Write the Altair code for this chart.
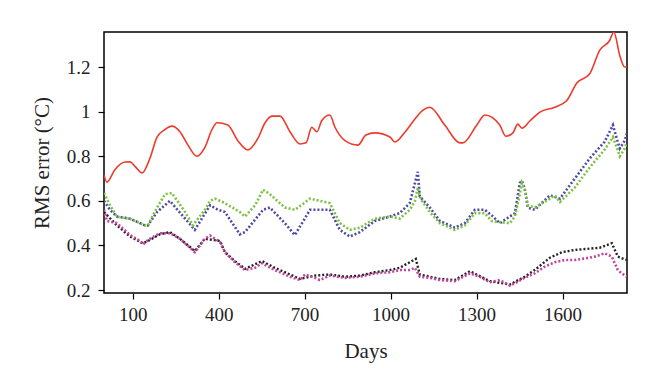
import altair as alt
import pandas as pd

red_day = [0, 10, 38, 73, 91, 108, 133, 160, 185, 213, 237, 265, 293, 324, 352, 377, 394, 432, 467, 502,
           537, 562, 586, 614, 649, 684, 705, 725, 743, 760, 788, 806, 841, 886, 914, 945, 998, 1015, 1050,
           1085, 1113, 1137, 1189, 1242, 1252, 1301, 1329, 1381, 1402, 1427, 1444, 1458, 1486, 1521, 1573,
           1615, 1650, 1695, 1730, 1765, 1779, 1800, 1817, 1824]
red_val = [0.716, 0.684, 0.74, 0.774, 0.775, 0.755, 0.725, 0.79, 0.886, 0.92, 0.935, 0.91, 0.85, 0.80, 0.84,
           0.92, 0.95, 0.94, 0.87, 0.828, 0.88, 0.95, 0.98, 0.98, 0.91, 0.855, 0.86, 0.93, 0.91, 0.96, 0.985,
           0.93, 0.87, 0.85, 0.895, 0.905, 0.886, 0.864, 0.908, 0.967, 1.007, 1.02, 0.94, 0.86, 0.86, 0.94,
           0.985, 0.94, 0.89, 0.905, 0.944, 0.926, 0.958, 0.998, 1.02, 1.05, 1.128, 1.17, 1.276, 1.32, 1.357,
           1.25, 1.20, 1.20]

green_day = [0, 21, 45, 91, 143, 153, 185, 213, 237, 283, 310, 352, 370, 387, 422, 474, 492, 527, 555, 579,
             631, 666, 719, 753, 788, 823, 858, 893, 945, 998, 1032, 1067, 1085, 1095, 1102, 1109, 1137, 1172,
             1224, 1259, 1294, 1329, 1353, 1381, 1416, 1434, 1451, 1458, 1468, 1479, 1503, 1556, 1573, 1591,
             1643, 1695, 1747, 1776, 1789, 1800, 1817, 1824]
green_val = [0.635, 0.58, 0.528, 0.52, 0.49, 0.49, 0.57, 0.63, 0.635, 0.55, 0.49, 0.56, 0.60, 0.61, 0.59,
             0.55, 0.53, 0.58, 0.65, 0.63, 0.57, 0.56, 0.61, 0.60, 0.59, 0.50, 0.47, 0.48, 0.52, 0.53, 0.52,
             0.56, 0.60, 0.66, 0.62, 0.60, 0.55, 0.50, 0.47, 0.49, 0.545, 0.545, 0.51, 0.505, 0.50, 0.53, 0.63,
             0.68, 0.65, 0.58, 0.57, 0.61, 0.625, 0.595, 0.66, 0.75, 0.83, 0.886, 0.84, 0.80, 0.835, 0.86]

blue_day = [0, 21, 45, 91, 143, 153, 185, 230, 283, 317, 370, 398, 422, 474, 492, 555, 579, 631, 666, 719,
            788, 823, 858, 893, 945, 998, 1032, 1067, 1085, 1095, 1102, 1109, 1137, 1172, 1224, 1259, 1294,
            1329, 1353, 1381, 1434, 1451, 1458, 1468, 1479, 1503, 1556, 1591, 1643, 1695, 1747, 1776, 1789,
            1800, 1817, 1824]
blue_val = [0.60, 0.56, 0.53, 0.52, 0.49, 0.49, 0.55, 0.60, 0.52, 0.47, 0.58, 0.56, 0.55, 0.45, 0.46, 0.56,
            0.57, 0.50, 0.447, 0.56, 0.56, 0.47, 0.44, 0.46, 0.51, 0.53, 0.545, 0.59, 0.68, 0.73, 0.62, 0.61,
            0.57, 0.51, 0.48, 0.50, 0.56, 0.56, 0.535, 0.50, 0.545, 0.68, 0.69, 0.655, 0.57, 0.56, 0.625, 0.61,
            0.70, 0.79, 0.865, 0.94, 0.88, 0.835, 0.87, 0.90]

magenta_day = [0, 10, 45, 91, 126, 136, 160, 195, 230, 265, 300, 317, 352, 370, 405, 422, 457, 492, 527, 551,
               596, 649, 684, 701, 736, 753, 788, 841, 893, 945, 998, 1032, 1067, 1085, 1102, 1137, 1172, 1224,
               1277, 1311, 1346, 1381, 1416, 1434, 1468, 1503, 1538, 1573, 1608, 1643, 1678, 1713, 1747, 1772,
               1793, 1807, 1824]
magenta_val = [0.56, 0.51, 0.50, 0.447, 0.42, 0.405, 0.43, 0.455, 0.455, 0.43, 0.39, 0.37, 0.43, 0.445, 0.415,
               0.37, 0.325, 0.29, 0.30, 0.32, 0.29, 0.26, 0.245, 0.27, 0.255, 0.245, 0.265, 0.255, 0.26, 0.275,
               0.28, 0.29, 0.29, 0.30, 0.26, 0.255, 0.245, 0.24, 0.275, 0.26, 0.235, 0.245, 0.22, 0.23, 0.255,
               0.275, 0.305, 0.325, 0.335, 0.335, 0.342, 0.35, 0.365, 0.35, 0.29, 0.275, 0.26]

black_day = [0, 45, 91, 136, 153, 195, 230, 265, 317, 352, 405, 422, 457, 492, 551, 596, 649, 684, 736, 788,
             841, 893, 945, 998, 1032, 1088, 1102, 1172, 1224, 1277, 1346, 1416, 1468, 1503, 1556, 1598, 1643,
             1730, 1772, 1793, 1824]
black_val = [0.55, 0.49, 0.44, 0.41, 0.42, 0.45, 0.46, 0.43, 0.375, 0.43, 0.42, 0.37, 0.33, 0.295, 0.33, 0.30,
             0.27, 0.25, 0.265, 0.27, 0.26, 0.265, 0.28, 0.29, 0.30, 0.34, 0.27, 0.25, 0.245, 0.285, 0.24, 0.225,
             0.26, 0.29, 0.345, 0.37, 0.38, 0.39, 0.41, 0.35, 0.335]

x_ticks = [100, 400, 700, 1000, 1300, 1600]
y_ticks = [0.2, 0.4, 0.6, 0.8, 1.0, 1.2]

FONT = "Liberation Serif"

xs = alt.Scale(domain=[0, 1825], nice=False, zero=False)
ys = alt.Scale(domain=[0.187, 1.357], nice=False, zero=False)

xax = alt.Axis(values=x_ticks, title="Days", grid=False, domain=False, tickColor="black", format="d",
               tickSize=6, tickWidth=1.2, labelPadding=6, titlePadding=16,
               labelFont=FONT, titleFont=FONT, labelFontSize=19, titleFontSize=21,
               labelColor="#222", titleColor="#222", titleFontWeight="normal")
yax = alt.Axis(values=y_ticks, title="RMS error (°C)", grid=False, domain=False, tickColor="black",
               tickSize=6, tickWidth=1.2, labelPadding=8, titlePadding=14,
               labelExpr="datum.value == 1 ? '1' : format(datum.value, '.1f')",
               labelFont=FONT, titleFont=FONT, labelFontSize=19, titleFontSize=21,
               labelColor="#222", titleColor="#222", titleFontWeight="normal")


def layer(days, vals, color, dashed, width):
    df = pd.DataFrame({"day": days, "v": vals})
    kw = dict(color=color, strokeWidth=width, clip=True)
    if dashed:
        kw["strokeDash"] = [2, 2]
    else:
        kw["interpolate"] = "monotone"
    return alt.Chart(df).mark_line(**kw).encode(
        x=alt.X("day:Q", scale=xs, axis=xax),
        y=alt.Y("v:Q", scale=ys, axis=yax),
    )


chart = alt.layer(
    layer(blue_day, blue_val, "#4d4aa6", True, 2.6),
    layer(green_day, green_val, "#7cc142", True, 2.6),
    layer(black_day, black_val, "#222222", True, 2.4),
    layer(magenta_day, magenta_val, "#c2449c", True, 2.6),
    layer(red_day, red_val, "#ee3a2a", False, 1.6),
).properties(
    width=523, height=261,
    autosize=alt.AutoSizeParams(type="none"),
    padding={"left": 96, "top": 24, "right": 25, "bottom": 91},
).configure_view(stroke="black", strokeWidth=1.5)

chart.save("out.html", embed_options={"renderer": "svg", "actions": False})
